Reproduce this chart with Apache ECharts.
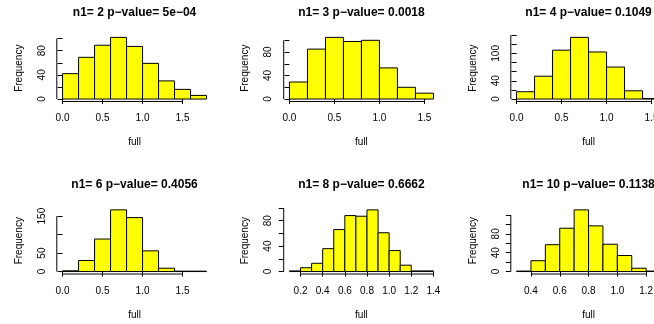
<!DOCTYPE html>
<html>
<head>
<meta charset="utf-8">
<script src="https://cdn.jsdelivr.net/npm/echarts@6/dist/echarts.min.js"></script>
<style>
  html, body { margin: 0; padding: 0; background: #fff; }
  #chart { width: 654px; height: 324px; }
</style>
</head>
<body>
<div id="chart"></div>
<script>
// histogram data, one array per panel
const titles = [
  "n1= 2 p\u2212value= 5e\u221204",
  "n1= 3 p\u2212value= 0.0018",
  "n1= 4 p\u2212value= 0.1049",
  "n1= 6 p\u2212value= 0.4056",
  "n1= 8 p\u2212value= 0.6662",
  "n1= 10 p\u2212value= 0.1138"
];

const breaks1 = [0, 0.2, 0.4, 0.6, 0.8, 1.0, 1.2, 1.4, 1.6, 1.8];
const counts1 = [42, 69, 89, 102, 87, 59, 30, 16, 6];

const breaks2 = [0, 0.2, 0.4, 0.6, 0.8, 1.0, 1.2, 1.4, 1.6];
const counts2 = [29, 85, 105, 98, 100, 53, 20, 10];

const breaks3 = [0, 0.2, 0.4, 0.6, 0.8, 1.0, 1.2, 1.4, 1.6];
const counts3 = [16, 50, 107, 135, 103, 70, 18, 1];

const breaks4 = [0, 0.2, 0.4, 0.6, 0.8, 1.0, 1.2, 1.4, 1.6, 1.8];
const counts4 = [2, 30, 88, 167, 146, 56, 9, 1, 1];

const breaks5 = [0.1, 0.2, 0.3, 0.4, 0.5, 0.6, 0.7, 0.8, 0.9, 1.0, 1.1, 1.2, 1.3, 1.4];
const counts5 = [1, 6, 13, 36, 66, 88, 87, 97, 61, 33, 10, 1, 1];

const breaks6 = [0.3, 0.4, 0.5, 0.6, 0.7, 0.8, 0.9, 1.0, 1.1, 1.2, 1.3];
const counts6 = [1, 23, 57, 92, 131, 97, 58, 34, 7, 1];

// tick positions and shown labels
const xTicks = [
  [0, 0.5, 1.0, 1.5],
  [0, 0.5, 1.0, 1.5],
  [0, 0.5, 1.0, 1.5],
  [0, 0.5, 1.0, 1.5],
  [0.2, 0.4, 0.6, 0.8, 1.0, 1.2, 1.4],
  [0.4, 0.6, 0.8, 1.0, 1.2]
];
const yTicks = [
  [0, 20, 40, 60, 80, 100],
  [0, 20, 40, 60, 80, 100],
  [0, 20, 40, 60, 80, 100, 120, 140],
  [0, 50, 100, 150],
  [0, 20, 40, 60, 80, 100],
  [0, 20, 40, 60, 80, 100, 120]
];
const yLabels = [
  [0, 40, 80],
  [0, 40, 80],
  [0, 40, 100],
  [0, 50, 150],
  [0, 40, 80],
  [0, 40, 80]
];

const allBreaks = [breaks1, breaks2, breaks3, breaks4, breaks5, breaks6];
const allCounts = [counts1, counts2, counts3, counts4, counts5, counts6];

// layout (px)
const colLeft = [56.8, 283.7, 510.8];
const rowTop = [34.9, 207.4];
const plotW = 155.5;
const plotH = 66.6;
const font = '"Liberation Sans", Arial, Helvetica, sans-serif';

let chart = echarts.init(document.getElementById("chart"), null, { renderer: "canvas" });

let option = {
  animation: false,
  backgroundColor: "#fff",
  title: [],
  grid: [],
  xAxis: [],
  yAxis: [],
  series: []
};

for (let i = 0; i < 6; i++) {
  const br = allBreaks[i];
  const cn = allCounts[i];
  const left = colLeft[i % 3];
  const top = rowTop[Math.floor(i / 3)];
  // R style 4% extension of ranges
  const lo = br[0], hi = br[br.length - 1];
  const ymax = Math.max(...cn);
  const xMin = lo - 0.04 * (hi - lo);
  const xMax = hi + 0.04 * (hi - lo);
  const yMin = -0.04 * ymax;
  const yMax = 1.04 * ymax;

  option.title.push({
    text: titles[i],
    left: left + plotW / 2,
    top: top - 28.5,
    textAlign: "center",
    padding: 0,
    textStyle: { fontFamily: font, fontSize: 12, fontWeight: "bold", color: "#000" }
  });

  // outerBoundsMode none: panels on the right run past the canvas edge like the source
  option.grid.push({ left: left, top: top, width: plotW, height: plotH, outerBoundsMode: "none", containLabel: false });

  option.xAxis.push({
    gridIndex: i,
    type: "value",
    min: xMin,
    max: xMax,
    name: "full",
    nameLocation: "middle",
    nameGap: 36,
    nameTextStyle: { fontFamily: font, fontSize: 10, color: "#000" },
    axisLine: { show: false },
    axisTick: { show: true, customValues: xTicks[i], length: 5, lineStyle: { color: "#000" } },
    axisLabel: {
      customValues: xTicks[i],
      formatter: (v) => Number(v).toFixed(1),
      margin: 12,
      fontFamily: font,
      fontSize: 10,
      color: "#000"
    },
    splitLine: { show: false }
  });

  option.yAxis.push({
    gridIndex: i,
    type: "value",
    min: yMin,
    max: yMax,
    name: "Frequency",
    nameLocation: "middle",
    nameRotate: 90,
    nameGap: 33,
    nameTextStyle: { fontFamily: font, fontSize: 10, color: "#000" },
    axisLine: { show: false },
    axisTick: { show: true, customValues: yTicks[i], length: 5, lineStyle: { color: "#000" } },
    axisLabel: {
      customValues: yLabels[i],
      rotate: 90,
      margin: 10,
      fontFamily: font,
      fontSize: 10,
      color: "#000"
    },
    splitLine: { show: false }
  });

  // bars
  option.series.push({
    type: "custom",
    xAxisIndex: i,
    yAxisIndex: i,
    clip: false,
    silent: true,
    encode: { x: [0, 1], y: 2 },
    data: cn.map((c, k) => [br[k], br[k + 1], c]),
    renderItem: (params, api) => {
      const p0 = api.coord([api.value(0), api.value(2)]);
      const p1 = api.coord([api.value(1), 0]);
      return {
        type: "rect",
        shape: { x: p0[0], y: p0[1], width: p1[0] - p0[0], height: p1[1] - p0[1] },
        style: { fill: "#ffff00", stroke: "#000", lineWidth: 1 }
      };
    }
  });

  // axis lines spanning first..last tick, drawn at the plot region edge
  const xt = xTicks[i], yt = yTicks[i];
  option.series.push({
    type: "custom",
    xAxisIndex: i,
    yAxisIndex: i,
    clip: false,
    silent: true,
    data: [[xt[0], yMin]],
    renderItem: (params, api) => {
      const a = api.coord([xt[0], yMin]);
      const b = api.coord([xt[xt.length - 1], yMin]);
      const c = api.coord([xMin, yt[0]]);
      const d = api.coord([xMin, yt[yt.length - 1]]);
      return {
        type: "group",
        children: [
          { type: "line", shape: { x1: a[0], y1: a[1], x2: b[0], y2: b[1] }, style: { stroke: "#000", lineWidth: 1 } },
          { type: "line", shape: { x1: c[0], y1: c[1], x2: d[0], y2: d[1] }, style: { stroke: "#000", lineWidth: 1 } }
        ]
      };
    }
  });
}

chart.setOption(option);
</script>
</body>
</html>
